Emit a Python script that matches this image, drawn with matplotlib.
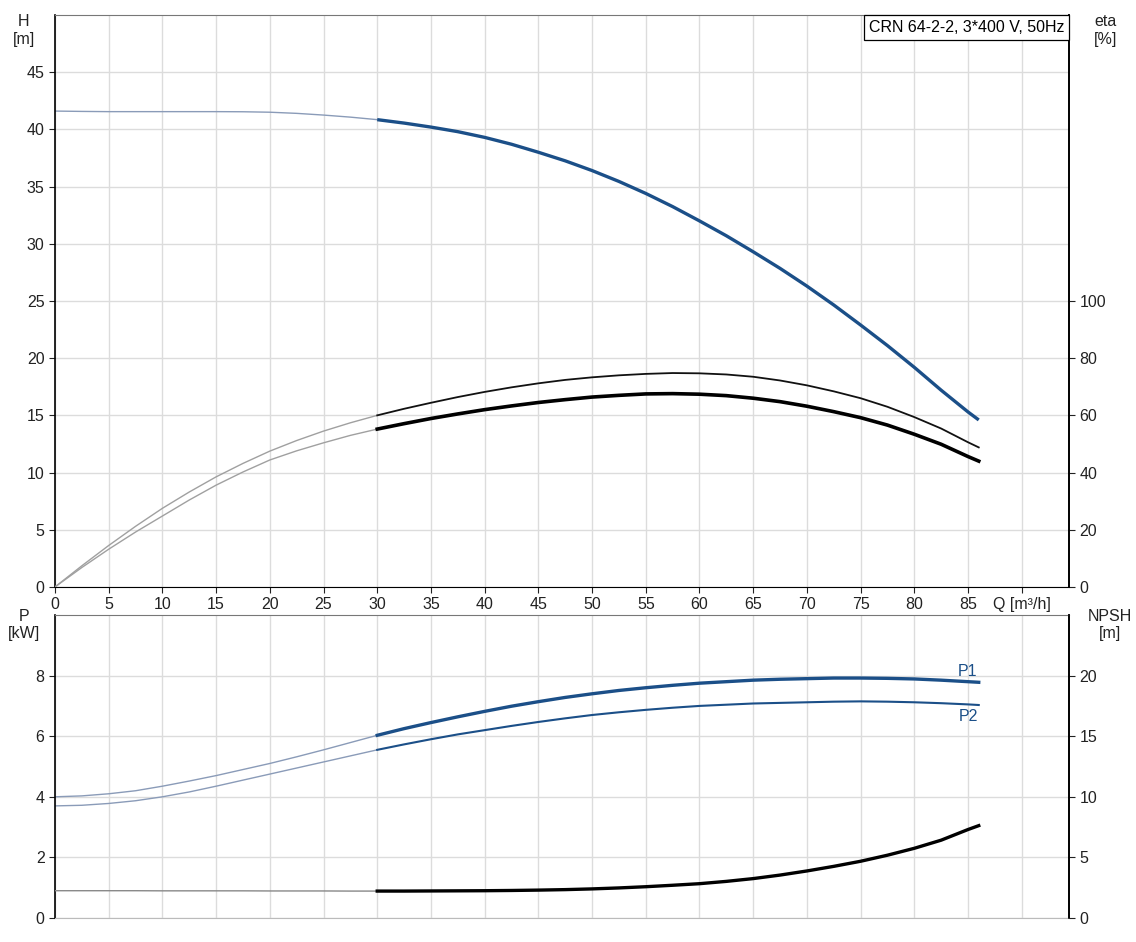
import numpy as np
import matplotlib.pyplot as plt
from matplotlib.offsetbox import AnchoredText

plt.rcParams['font.family'] = ['Liberation Sans', 'DejaVu Sans']

# flow Q [m3/h]
q_lo = [0, 2.5, 5, 7.5, 10, 12.5, 15, 17.5, 20, 22.5, 25, 27.5, 30]
q_hi = [30, 32.5, 35, 37.5, 40, 42.5, 45, 47.5, 50, 52.5, 55, 57.5, 60,
        62.5, 65, 67.5, 70, 72.5, 75, 77.5, 80, 82.5, 85, 86]

# head H [m]
h_lo = [41.6, 41.57, 41.55, 41.55, 41.55, 41.55, 41.55, 41.54, 41.5, 41.4, 41.25, 41.07, 40.85]
h_hi = [40.85, 40.55, 40.2, 39.8, 39.3, 38.7, 38.0, 37.25, 36.4, 35.45, 34.4, 33.25, 32.0,
        30.7, 29.3, 27.85, 26.3, 24.65, 22.9, 21.1, 19.2, 17.2, 15.3, 14.6]

# efficiencies eta [%]
eta1_lo = [0, 7.4, 14.5, 21.2, 27.5, 33.2, 38.5, 43.2, 47.5, 51.2, 54.5, 57.4, 60.0]
eta1_hi = [60.0, 62.3, 64.4, 66.4, 68.2, 69.8, 71.2, 72.4, 73.3, 74.0, 74.5, 74.8, 74.7,
           74.3, 73.5, 72.2, 70.5, 68.4, 66.0, 63.0, 59.4, 55.4, 50.6, 48.8]
eta2_lo = [0, 6.8, 13.2, 19.2, 24.8, 30.4, 35.6, 40.2, 44.4, 47.6, 50.4, 53.0, 55.2]
eta2_hi = [55.2, 57.1, 58.9, 60.5, 62.0, 63.3, 64.5, 65.5, 66.4, 67.0, 67.5, 67.6, 67.4,
           66.9, 66.0, 64.8, 63.2, 61.3, 59.2, 56.6, 53.4, 49.9, 45.6, 44.0]

# power P [kW]
p1_lo = [4.0, 4.03, 4.1, 4.2, 4.35, 4.52, 4.7, 4.9, 5.1, 5.32, 5.55, 5.79, 6.03]
p1_hi = [6.03, 6.25, 6.45, 6.64, 6.82, 6.99, 7.14, 7.28, 7.4, 7.51, 7.6, 7.68, 7.75,
         7.8, 7.85, 7.88, 7.9, 7.92, 7.92, 7.91, 7.89, 7.85, 7.8, 7.78]
p2_lo = [3.7, 3.72, 3.78, 3.87, 4.0, 4.16, 4.35, 4.55, 4.75, 4.95, 5.15, 5.35, 5.55]
p2_hi = [5.55, 5.73, 5.9, 6.06, 6.2, 6.34, 6.47, 6.59, 6.7, 6.79, 6.87, 6.94, 7.0,
         7.04, 7.08, 7.1, 7.12, 7.14, 7.15, 7.14, 7.12, 7.09, 7.05, 7.03]

# NPSH [m]
npsh_lo = [2.25, 2.25, 2.25, 2.25, 2.24, 2.24, 2.24, 2.24, 2.23, 2.23, 2.23, 2.22, 2.22]
npsh_hi = [2.22, 2.22, 2.23, 2.24, 2.25, 2.27, 2.3, 2.34, 2.4, 2.48, 2.58, 2.7, 2.83,
           3.02, 3.25, 3.54, 3.88, 4.26, 4.68, 5.18, 5.75, 6.42, 7.3, 7.62]

x_ticks = [0, 5, 10, 15, 20, 25, 30, 35, 40, 45, 50, 55, 60, 65, 70, 75, 80, 85, 90]
x_labels = [str(t) for t in x_ticks[:-1]] + ['Q [m³/h]']

blue = '#1b4f88'
thin_blue = '#8a9bb8'
thin_gray = '#a0a0a0'
grid_c = '#dcdcdc'
fs = 11.5

fig = plt.figure(figsize=[11.36, 9.42], dpi=100)
ax1 = fig.add_axes([0.0484, 0.3769, 0.8926, 0.6072])
ax2 = fig.add_axes([0.0484, 0.0255, 0.8926, 0.3216])

def style(ax):
    ax.set_xlim(0, 94.4)
    ax.set_xticks(x_ticks)
    ax.grid(True, color=grid_c, lw=1)
    ax.set_axisbelow(True)
    ax.tick_params(labelsize=fs, length=4, colors='#222222')
    ax.spines['top'].set_color('#777777')
    ax.spines['left'].set_linewidth(1.2)
    ax.spines['right'].set_linewidth(1.2)

# top: H and eta
style(ax1)
ax1.set_ylim(0, 50)
ax1.set_yticks(np.arange(0, 46, 5))
ax1.set_xticklabels(x_labels)
ax1.plot(q_lo, h_lo, color=thin_blue, lw=1)
ax1.plot(q_hi, h_hi, color=blue, lw=2.4, solid_capstyle='butt')

e1 = ax1.twinx()
e1.set_ylim(0, 200)
e1.set_yticks(np.arange(0, 101, 20))
e1.tick_params(labelsize=fs, length=4, colors='#222222')
e1.plot(q_lo, eta1_lo, color=thin_gray, lw=1)
e1.plot(q_hi, eta1_hi, color='#111111', lw=1.3)
e1.plot(q_lo, eta2_lo, color=thin_gray, lw=1)
e1.plot(q_hi, eta2_hi, color='#000000', lw=2.6)
for s in e1.spines.values():
    s.set_visible(False)
e1.spines['right'].set_visible(True)
e1.spines['right'].set_linewidth(1.2)

box = AnchoredText('CRN 64-2-2, 3*400 V, 50Hz', loc='upper right', pad=0.3, borderpad=0,
                   frameon=True, prop=dict(size=fs))
box.patch.set_edgecolor('black')
box.patch.set_linewidth(0.9)
e1.add_artist(box)

fig.text(0.021, 0.985, 'H\n[m]', fontsize=fs, ha='center', va='top', color='#222222', linespacing=1.2)
fig.text(0.973, 0.985, 'eta\n[%]', fontsize=fs, ha='center', va='top', color='#222222', linespacing=1.2)

# bottom: P and NPSH
style(ax2)
ax2.set_ylim(0, 10)
ax2.set_yticks(np.arange(0, 9, 2))
ax2.set_xticklabels([])
ax2.tick_params(axis='x', length=0)
ax2.spines['bottom'].set_color('#bbbbbb')
ax2.plot(q_lo, p1_lo, color=thin_blue, lw=1)
ax2.plot(q_hi, p1_hi, color=blue, lw=2.4)
ax2.plot(q_lo, p2_lo, color=thin_blue, lw=1)
ax2.plot(q_hi, p2_hi, color=blue, lw=1.5)
ax2.text(85.9, p1_hi[-1] + 0.12, 'P1', color=blue, fontsize=fs, ha='right', va='bottom')
ax2.text(85.9, p2_hi[-1] - 0.12, 'P2', color=blue, fontsize=fs, ha='right', va='top')

n1 = ax2.twinx()
n1.set_ylim(0, 25)
n1.set_yticks(np.arange(0, 21, 5))
n1.tick_params(labelsize=fs, length=4, colors='#222222')
n1.plot(q_lo, npsh_lo, color='#888888', lw=1)
n1.plot(q_hi, npsh_hi, color='#000000', lw=2.4)
for s in n1.spines.values():
    s.set_visible(False)
n1.spines['right'].set_visible(True)
n1.spines['right'].set_linewidth(1.2)

fig.text(0.021, 0.354, 'P\n[kW]', fontsize=fs, ha='center', va='top', color='#222222', linespacing=1.2)
fig.text(0.977, 0.354, 'NPSH\n[m]', fontsize=fs, ha='center', va='top', color='#222222', linespacing=1.2)

plt.savefig('out.png', dpi=100)
